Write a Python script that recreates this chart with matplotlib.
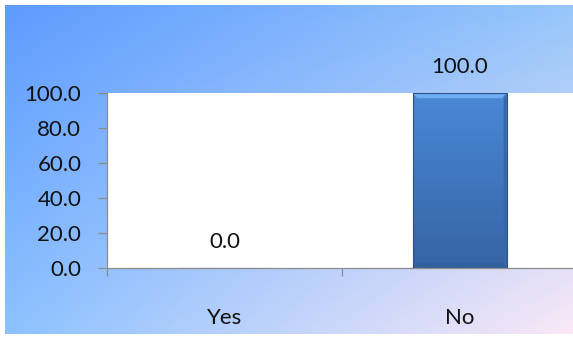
import numpy as np
import matplotlib.pyplot as plt
from matplotlib.colors import to_rgb
from matplotlib.patches import Polygon

categories = ["Yes", "No"]
values = [0.0, 100.0]
yticks = [0, 20, 40, 60, 80, 100]

plt.rcParams["font.family"] = ["Lato", "DejaVu Sans"]

fig = plt.figure(figsize=(5.73, 3.37), dpi=100)
fig.patch.set_facecolor("white")

# gradient backdrop: blue top-left fading to pale pink bottom-right
bg = fig.add_axes([5 / 573, 3 / 337, 1 - 5 / 573, 1 - 8 / 337])
bg.set_axis_off()
tl, tr = np.array(to_rgb("#5e9bff")), np.array(to_rgb("#96c6fa"))
bl, br = np.array(to_rgb("#8cc2ff")), np.array(to_rgb("#fae8f6"))
u = np.linspace(0, 1, 300)[None, :, None]
v = np.linspace(0, 1, 200)[:, None, None]
grad = (1 - v) * ((1 - u) * tl + u * tr) + v * ((1 - u) * bl + u * br)
bg.imshow(grad, aspect="auto", extent=[0, 1, 0, 1], interpolation="bilinear")
bg.set_xlim(0, 1)
bg.set_ylim(0, 1)

ax = fig.add_axes([107 / 573, 69 / 337, 470 / 573, 175 / 337])
ax.set_facecolor("white")

x = np.arange(len(categories))
bars = ax.bar(x, values, width=0.40, color="#3f7cc8", edgecolor="#2b4f82",
              linewidth=0.8, zorder=2)

# vertical shading and bevels on each bar
for b in bars:
    x0, w, h = b.get_x(), b.get_width(), b.get_height()
    if h <= 0:
        continue
    shade = np.linspace(0, 1, 100)[:, None, None]
    col = (1 - shade) * np.array(to_rgb("#4a88d6")) + shade * np.array(to_rgb("#3564a4"))
    im = ax.imshow(col, aspect="auto", extent=[x0, x0 + w, 0, h],
                   origin="upper", zorder=2.1)
    im.set_clip_path(b)
    dx, dy = 0.02, 3.0
    top = Polygon([[x0, h], [x0 + w, h], [x0 + w - dx, h - dy], [x0 + dx, h - dy]],
                  closed=True, facecolor="#6eacf2", edgecolor="none", zorder=2.2)
    right = Polygon([[x0 + w, h], [x0 + w, 0], [x0 + w - dx * 0.6, dy], [x0 + w - dx * 0.6, h - dy]],
                    closed=True, facecolor="#3a66a8", edgecolor="none", zorder=2.2)
    bottom = Polygon([[x0, 0], [x0 + w, 0], [x0 + w - dx, dy], [x0 + dx, dy]],
                     closed=True, facecolor="#31609e", edgecolor="none", zorder=2.2)
    for p in (top, right, bottom):
        ax.add_patch(p)
    b.set_facecolor("none")
    b.set_zorder(2.3)

for xi, val in zip(x, values):
    ax.annotate(f"{val:.1f}", (xi, val), xytext=(0, 19), textcoords="offset points",
                ha="center", va="center", fontsize=16, color="#111111",
                annotation_clip=False)

ax.set_xlim(-0.5, 1.5)
ax.set_ylim(0, 100)
ax.set_yticks(yticks)
ax.set_yticklabels([f"{t:.1f}" for t in yticks], fontsize=16, color="#111111")
ax.tick_params(axis="y", length=6.5, width=0.9, color="#8c8c8c", pad=12)

ax.set_xticks(x)
ax.set_xticklabels(categories, fontsize=16, color="#111111")
ax.tick_params(axis="x", which="major", length=0, pad=29)
ax.set_xticks([-0.5, 0.5, 1.5], minor=True)
ax.tick_params(axis="x", which="minor", length=5.5, width=0.9, color="#8c8c8c")

for side in ("top", "right"):
    ax.spines[side].set_visible(False)
for side in ("left", "bottom"):
    ax.spines[side].set_color("#8c8c8c")
    ax.spines[side].set_linewidth(0.9)

fig.savefig("out.png", dpi=100)
